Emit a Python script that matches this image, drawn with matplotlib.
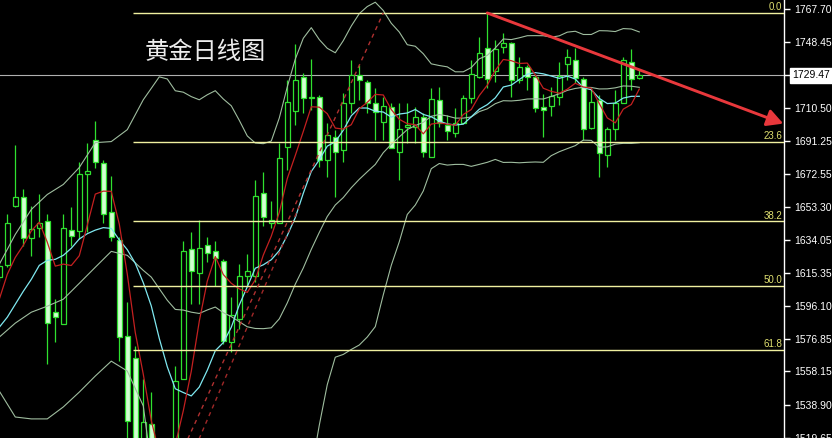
import numpy as np
import matplotlib
matplotlib.use("Agg")
import matplotlib.pyplot as plt
from matplotlib.patches import FancyArrowPatch

# ---------------- data (daily gold candles, index -1 .. 79) ----------------
first_index = -1
opens = [1612.6, 1619.5, 1654.1, 1659.3, 1635.1, 1640.9, 1644.9, 1592.4, 1585.5, 1639.7,
         1639.1, 1672.6, 1692.2, 1678.9, 1650.1, 1633.9, 1578.6, 1565.9, 1507.6, 1527.8,
         1501.8, 1484.5, 1510.5, 1553.7, 1628.7, 1614.9, 1631.1, 1627.6, 1621.8, 1575.1,
         1588.4, 1613.2, 1613.2, 1661.1, 1644.3, 1643.8, 1688.2, 1709.0, 1728.6, 1716.5,
         1717.0, 1680.7, 1694.0, 1686.4, 1713.6, 1729.7, 1725.7, 1713.6, 1702.6, 1711.3,
         1685.3, 1699.7, 1699.7, 1705.5, 1682.4, 1715.3, 1700.9, 1696.3, 1702.0, 1716.5,
         1728.6, 1745.3, 1732.0, 1745.9, 1748.2, 1726.8, 1734.3, 1728.6, 1711.3, 1711.8,
         1717.0, 1736.1, 1738.4, 1727.4, 1699.1, 1715.3, 1683.6, 1698.6, 1713.6, 1737.2,
         1728.0]
highs = [1621.8, 1649.5, 1689.3, 1663.9, 1653.6, 1660.5, 1649.5, 1599.9, 1649.5, 1653.0,
         1679.5, 1690.5, 1703.2, 1680.7, 1671.4, 1635.7, 1598.2, 1572.8, 1553.7, 1546.2,
         1507.6, 1516.2, 1561.2, 1633.4, 1638.6, 1645.5, 1635.7, 1633.4, 1623.0, 1601.1,
         1620.1, 1625.9, 1668.6, 1673.8, 1657.0, 1690.5, 1726.8, 1747.6, 1730.9, 1739.0,
         1718.2, 1702.0, 1698.0, 1719.3, 1738.4, 1735.5, 1726.8, 1722.2, 1717.0, 1713.6,
         1713.6, 1713.6, 1711.3, 1707.8, 1722.2, 1722.8, 1706.6, 1710.7, 1718.2, 1738.4,
         1751.7, 1765.5, 1749.9, 1754.0, 1748.8, 1740.1, 1735.5, 1729.7, 1718.8, 1722.8,
         1737.2, 1744.7, 1745.3, 1728.6, 1721.6, 1718.2, 1699.7, 1721.1, 1740.1, 1744.7,
         1732.6]
lows = [1610.3, 1618.4, 1653.0, 1630.5, 1624.7, 1635.7, 1562.4, 1575.1, 1585.5, 1630.5,
        1634.5, 1638.6, 1676.1, 1644.3, 1633.4, 1564.1, 1516.2, 1501.8, 1501.8, 1496.0,
        1449.9, 1473.0, 1507.6, 1553.7, 1597.0, 1597.0, 1621.2, 1607.4, 1573.9, 1569.3,
        1582.6, 1607.4, 1609.7, 1642.0, 1641.4, 1643.8, 1674.9, 1700.9, 1707.8, 1709.5,
        1676.6, 1670.9, 1659.3, 1679.5, 1707.8, 1715.3, 1707.8, 1692.2, 1692.2, 1687.6,
        1669.1, 1690.5, 1690.5, 1682.4, 1682.4, 1699.7, 1692.2, 1694.0, 1702.0, 1713.6,
        1728.0, 1722.2, 1725.7, 1742.4, 1717.0, 1725.1, 1721.1, 1708.4, 1694.0, 1706.1,
        1712.4, 1726.8, 1725.1, 1692.2, 1698.6, 1670.9, 1676.6, 1692.2, 1713.6, 1721.1,
        1727.4]
closes = [1618.9, 1643.8, 1658.8, 1635.1, 1640.3, 1644.3, 1586.1, 1589.5, 1640.9, 1636.3,
          1672.6, 1674.3, 1679.5, 1649.5, 1635.7, 1578.0, 1529.5, 1510.5, 1528.9, 1501.8,
          1484.5, 1510.5, 1552.6, 1627.6, 1616.1, 1629.3, 1626.4, 1623.6, 1575.7, 1590.7,
          1613.2, 1616.1, 1659.9, 1647.2, 1645.5, 1681.8, 1714.1, 1726.8, 1716.5, 1717.0,
          1680.7, 1695.1, 1685.3, 1713.6, 1729.7, 1726.8, 1713.6, 1708.4, 1711.8, 1687.6,
          1698.6, 1700.9, 1705.5, 1685.3, 1715.9, 1702.0, 1697.4, 1702.0, 1716.5, 1730.3,
          1742.4, 1727.4, 1744.7, 1748.2, 1726.8, 1734.3, 1728.6, 1710.7, 1709.5, 1717.6,
          1729.1, 1740.1, 1728.0, 1698.6, 1714.1, 1684.7, 1698.6, 1713.6, 1738.4, 1727.4,
          1729.47]

# indicator values read off the chart where the averaging window is not yet full
ma5_lead = [1599.9, 1614.3, 1624.1, 1631.1]                       # idx -1..2
ma10_lead = [1583.7, 1589.5, 1597.0, 1604.5, 1611.4, 1619.5,
             1622.4, 1623.0, 1625.3]                               # idx -1..7
bb_lead_idx = [-1, 1, 3, 5, 7, 9, 11, 13, 15, 17]
bb_upper_lead = [1620.1, 1637.4, 1651.8, 1660.5, 1666.3, 1676.1, 1690.5, 1691.1, 1698.0, 1715.3]
bb_mid_lead = [1578.0, 1586.1, 1592.4, 1595.9, 1599.9, 1609.1, 1618.4, 1627.6, 1625.3, 1616.6]
bb_lower_lead = [1546.8, 1531.8, 1530.7, 1530.7, 1537.6, 1546.2, 1555.5, 1564.1, 1558.4, 1538.2]

price_ticks = [1767.70, 1748.45, 1729.47, 1710.50, 1691.25, 1672.55, 1653.30,
               1634.05, 1615.35, 1596.10, 1576.85, 1558.15, 1538.90, 1519.65]
last_price = 1729.47

fib_high = 1765.5
fib_low = 1449.9
fib_levels = [0.0, 23.6, 38.2, 50.0, 61.8]
fib_labels = ["0.0", "23.6", "38.2", "50.0", "61.8"]
fib_anchor_idx = [15.7, 47.0]          # low anchor, high anchor

# second (short) dashed up-trend line
up_line_idx = [23.7, 36.6]
up_line_price = [1516.2, 1654.7]

trend_idx = [60, 97]
trend_price = [1765.5, 1701.5]

title = "黄金日线图"

# ---------------- derived indicators ----------------
n = len(closes)
idx = np.arange(first_index, first_index + n)
o = np.array(opens); h = np.array(highs); l = np.array(lows); c = np.array(closes)

ma5 = np.concatenate([ma5_lead, np.convolve(c, np.ones(5) / 5, "valid")])
ma10 = np.concatenate([ma10_lead, np.convolve(c, np.ones(10) / 10, "valid")])
mids, ups, lows_bb = [], [], []
for i in range(19, n):
    w = c[i - 19:i + 1]
    m, s = w.mean(), w.std()
    mids.append(m); ups.append(m + 2 * s); lows_bb.append(m - 2 * s)
bb_x = np.concatenate([bb_lead_idx, idx[19:]])
bb_up = np.concatenate([bb_upper_lead, ups])
bb_mid = np.concatenate([bb_mid_lead, mids])
bb_lo = np.concatenate([bb_lower_lead, lows_bb])

# ---------------- figure ----------------
W, H = 832, 438
fig = plt.figure(figsize=(W / 100, H / 100), dpi=100, facecolor="black")
ax = fig.add_axes([0, 0, 784 / W, 1])
ax.set_facecolor("black")
ax.set_xlim(-0.91, 97.09)
ax.set_ylim(1520.3, 1773.0)

green = "#2fe02f"
bear_fill = "#d2ffd2"

# candles
for k, oo, hh, ll, cc in zip(idx, o, h, l, c):
    ax.vlines(k, ll, hh, color=green, lw=0.9, zorder=3)
    bull = cc >= oo
    bottom = min(oo, cc)
    height = max(abs(cc - oo), 0.35)
    ax.bar(k, height, bottom=bottom, width=0.62,
           color="black" if bull else bear_fill, edgecolor=green, linewidth=0.9, zorder=4)

# indicators
band_col = "#9fbd9f"
ax.plot(bb_x, bb_up, color=band_col, lw=0.8, zorder=5)
ax.plot(bb_x, bb_mid, color=band_col, lw=0.8, zorder=5)
ax.plot(bb_x, bb_lo, color=band_col, lw=0.8, zorder=5)
ax.plot(idx, ma10, color="#7fe8f0", lw=0.9, zorder=6)
ax.plot(idx, ma5, color="#c42020", lw=0.9, zorder=6)

# fibonacci retracement
rng = fib_high - fib_low
for lev, lab in zip(fib_levels, fib_labels):
    p = fib_high - rng * lev / 100.0
    ax.hlines(p, fib_anchor_idx[0], 97.09, color="#f0f0a0", lw=1.0, zorder=7)
    ax.text(96.85, p + 0.4, lab, color="#e0e070", fontsize=7, ha="right", va="bottom",
            family="Liberation Sans", zorder=8)
ax.plot(fib_anchor_idx, [fib_low, fib_high], color="#b03030", lw=1.0,
        ls=(0, (3, 3)), zorder=7)
ax.plot(up_line_idx, up_line_price, color="#a02828", lw=1.0,
        ls=(0, (3, 3)), zorder=7)

# current price line
ax.axhline(last_price, color="#b0b0b0", lw=0.8, zorder=2)

# down trend line with arrow
arr = FancyArrowPatch((trend_idx[0], trend_price[0]), (trend_idx[1], trend_price[1]),
                      arrowstyle="-|>,head_length=6,head_width=3.2", color="#e8383c",
                      lw=2.1, mutation_scale=1.6, zorder=9, shrinkA=0, shrinkB=0)
ax.add_patch(arr)

# title
ax.text(145 / 784, 1 - 52 / 438, title, transform=ax.transAxes, color="#ececec",
        fontsize=17.5, family=["Noto Sans CJK SC"], va="center", ha="left", zorder=10)

# axes / ticks
for s in ["top", "left", "bottom"]:
    ax.spines[s].set_visible(False)
ax.spines["right"].set_color("white")
ax.spines["right"].set_linewidth(1.0)
ax.set_xticks([])
ax.yaxis.tick_right()
ax.set_yticks(price_ticks)
ax.set_yticklabels([("" if t == last_price else f"{t:.2f}") for t in price_ticks])
ax.tick_params(axis="y", colors="white", length=4, width=1, pad=3, labelsize=7.5)
for t in ax.get_yticklabels():
    t.set_family("Liberation Sans")

ax.annotate(f"{last_price:.2f}", xy=(1.0, last_price), xycoords=("axes fraction", "data"),
            xytext=(6, 0), textcoords="offset points", color="black", fontsize=7.5,
            family="Liberation Sans", va="center", ha="left",
            bbox=dict(boxstyle="square,pad=0.25", fc="white", ec="white"),
            annotation_clip=False)

fig.savefig("out.png", dpi=100, facecolor="black")
